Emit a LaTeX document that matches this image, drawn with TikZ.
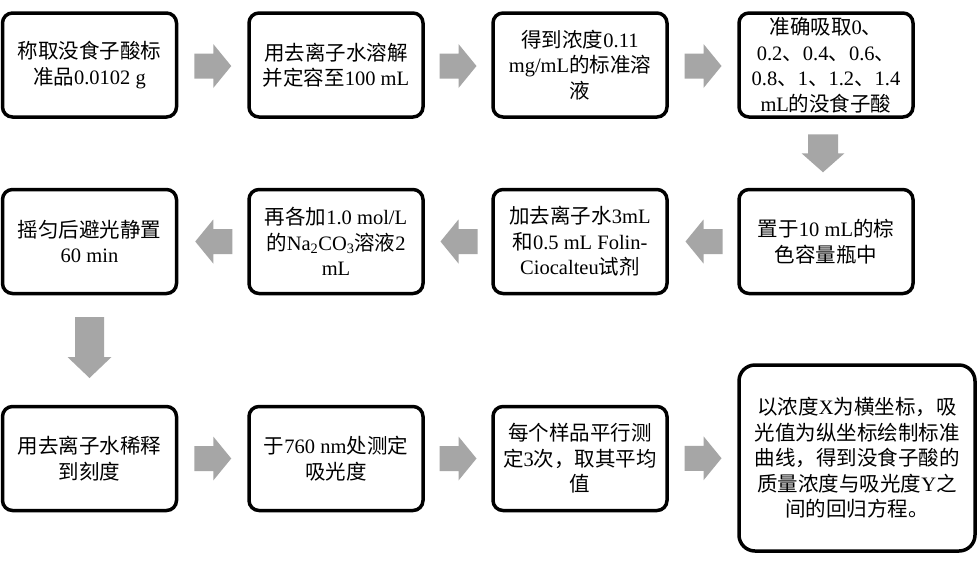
\documentclass[tikz,border=0pt]{standalone}
\usepackage{fontspec}
\setmainfont{Liberation Serif}
\newfontfamily\cjkfont{Noto Sans CJK SC}
\usetikzlibrary{calc}
\definecolor{arrowgray}{HTML}{A6A6A6}
\newcommand\zh[1]{{\cjkfont #1}}
% #1 centre, #2 angle, #3 half length, #4 head length, #5 shaft half width, #6 head half width
\newcommand\blockarrow[6]{%
  \fill[arrowgray, shift={#1}, rotate=#2]
    (-#3,#5) -- ({#3-#4},#5) -- ({#3-#4},#6) -- (#3,0pt)
    -- ({#3-#4},-#6) -- ({#3-#4},-#5) -- (-#3,-#5) -- cycle;}
\tikzset{
  stepbox/.style={draw=black, line width=3.5pt, rounded corners=10pt,
    minimum width=174pt, minimum height=104pt, inner sep=0pt, align=center,
    font=\fontsize{20.5}{25.5}\selectfont, fill=white},
  bigbox/.style={stepbox, minimum width=236pt, minimum height=186pt, rounded corners=16pt}
}
\begin{document}
\begin{tikzpicture}
\useasboundingbox[fill=white] (0pt,0pt) rectangle (978pt,-566pt);
% row 1
\node[stepbox] (b1) at (89.5pt,-65pt) {\zh{称取没食子酸标}\\\zh{准品}0.0102 g};
\node[stepbox] (b2) at (336pt,-65pt) {\zh{用去离子水溶解}\\\zh{并定容至}100 mL};
\node[stepbox] (b3) at (580pt,-65pt) {\zh{得到浓度}0.11\\mg/mL\zh{的标准溶}\\\zh{液}};
\node[stepbox] (b4) at (826pt,-65pt) {\zh{准确吸取}0\zh{、}\\0.2\zh{、}0.4\zh{、}0.6\zh{、}\\0.8\zh{、}1\zh{、}1.2\zh{、}1.4\\mL\zh{的没食子酸}};
% row 2
\node[stepbox] (b5) at (826pt,-241.5pt) {\zh{置于}10 mL\zh{的棕}\\\zh{色容量瓶中}};
\node[stepbox] (b6) at (580pt,-241.5pt) {\zh{加去离子水}3mL\\\zh{和}0.5 mL Folin-\\Ciocalteu\zh{试剂}};
\node[stepbox] (b7) at (336pt,-241.5pt) {\zh{再各加}1.0 mol/L\\\zh{的}Na\textsubscript{2}CO\textsubscript{3}\zh{溶液}2\\mL};
\node[stepbox] (b8) at (89.5pt,-241.5pt) {\zh{摇匀后避光静置}\\60 min};
% row 3
\node[stepbox] (b9) at (89.5pt,-458.5pt) {\zh{用去离子水稀释}\\\zh{到刻度}};
\node[stepbox] (b10) at (336pt,-458.5pt) {\zh{于}760 nm\zh{处测定}\\\zh{吸光度}};
\node[stepbox] (b11) at (580pt,-458.5pt) {\zh{每个样品平行测}\\\zh{定}3\zh{次，取其平均}\\\zh{值}};
\node[bigbox] (b12) at (857pt,-458pt) {\zh{以浓度}X\zh{为横坐标，吸}\\\zh{光值为纵坐标绘制标准}\\\zh{曲线，得到没食子酸的}\\\zh{质量浓度与吸光度}Y\zh{之}\\\zh{间的回归方程。}};
% arrows row 1
\blockarrow{($(b1.east)!0.5!(b2.west)+(0,-1pt)$)}{0}{18.5pt}{18pt}{12.5pt}{22pt}
\blockarrow{($(b2.east)!0.5!(b3.west)+(0,-1pt)$)}{0}{18.5pt}{18pt}{12.5pt}{22pt}
\blockarrow{($(b3.east)!0.5!(b4.west)+(0,-1pt)$)}{0}{18.5pt}{18pt}{12.5pt}{22pt}
\blockarrow{($(b4.south)!0.5!(b5.north)+(-3pt,0)$)}{-90}{19pt}{19pt}{15pt}{21.5pt}
% arrows row 2
\blockarrow{($(b5.west)!0.5!(b6.east)+(1pt,0)$)}{180}{18.5pt}{18pt}{12.5pt}{22pt}
\blockarrow{($(b6.west)!0.5!(b7.east)+(1pt,0)$)}{180}{18.5pt}{18pt}{12.5pt}{22pt}
\blockarrow{($(b7.west)!0.5!(b8.east)+(1pt,0)$)}{180}{18.5pt}{18pt}{12.5pt}{22pt}
\blockarrow{($(b8.south)!0.5!(b9.north)+(0,2.5pt)$)}{-90}{30.5pt}{21pt}{14.5pt}{22pt}
% arrows row 3
\blockarrow{($(b9.east)!0.5!(b10.west)$)}{0}{18.5pt}{18pt}{12.5pt}{22pt}
\blockarrow{($(b10.east)!0.5!(b11.west)$)}{0}{18.5pt}{18pt}{12.5pt}{22pt}
\blockarrow{($(b11.east)!0.5!(b12.west)$)}{0}{18.5pt}{18pt}{12.5pt}{22pt}
\end{tikzpicture}
\end{document}
